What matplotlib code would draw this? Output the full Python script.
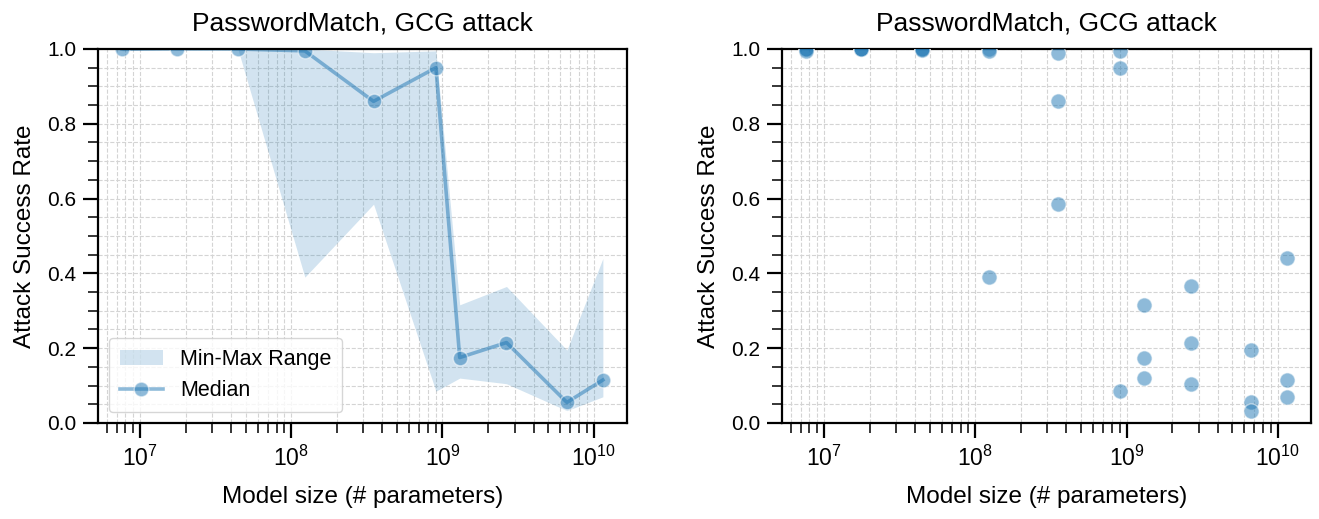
import numpy as np
import matplotlib
matplotlib.use("Agg")
import matplotlib.pyplot as plt
from matplotlib.ticker import MultipleLocator, LogLocator, NullFormatter

plt.rcParams['font.family'] = ['Liberation Sans', 'DejaVu Sans']
plt.rcParams['mathtext.fontset'] = 'custom'
plt.rcParams['mathtext.rm'] = 'Liberation Sans'
plt.rcParams['mathtext.it'] = 'Liberation Sans:italic'

title = "PasswordMatch, GCG attack"
xlabel = "Model size (# parameters)"
ylabel = "Attack Success Rate"

model_sizes = [7.6e6, 1.76e7, 4.45e7, 1.23e8, 3.5e8, 9.05e8, 1.3e9, 2.65e9, 6.65e9, 1.15e10]
seed_a = [1.0, 1.0, 1.0, 1.0, 0.99, 0.995, 0.316, 0.365, 0.195, 0.44]
seed_b = [1.0, 1.0, 1.0, 0.995, 0.86, 0.95, 0.175, 0.215, 0.055, 0.115]
seed_c = [0.995, 1.0, 0.998, 0.39, 0.585, 0.085, 0.12, 0.105, 0.033, 0.07]

color = '#1f77b4'
x = np.array(model_sizes)
vals = np.array([seed_a, seed_b, seed_c])
med = np.median(vals, axis=0)
lo = vals.min(axis=0)
hi = vals.max(axis=0)

fig = plt.figure(figsize=(13.19, 5.19), dpi=100)
ax1 = fig.add_axes([0.0743, 0.185, 0.401, 0.7206])
ax2 = fig.add_axes([0.5929, 0.185, 0.401, 0.7206])

ax1.fill_between(x, lo, hi, color=color, alpha=0.2, linewidth=0, label='Min-Max Range')
ax1.plot(x, med, '-o', color=color, alpha=0.5, lw=2.6, markersize=10.5,
         markeredgecolor='white', markeredgewidth=1.0, label='Median')

for s in vals:
    ax2.scatter(x, s, s=120, color=color, alpha=0.5, edgecolors='white', linewidths=1.0, zorder=3)

for ax in (ax1, ax2):
    ax.set_xscale('log')
    ax.set_ylim(0, 1.0)
    ax.yaxis.set_major_locator(MultipleLocator(0.2))
    ax.yaxis.set_minor_locator(MultipleLocator(0.05))
    ax.yaxis.set_major_formatter(matplotlib.ticker.FormatStrFormatter('%.1f'))
    ax.xaxis.set_major_locator(LogLocator(base=10, numticks=20))
    ax.xaxis.set_minor_locator(LogLocator(base=10, subs=np.arange(2, 10), numticks=100))
    ax.xaxis.set_minor_formatter(NullFormatter())
    ax.grid(True, which='both', linestyle='--', color='#d4d4d4', linewidth=0.8)
    ax.set_axisbelow(True)
    ax.tick_params(which='major', length=10.5, width=1.6, labelsize=15, pad=5)
    ax.tick_params(axis='x', which='major', labelsize=16.5, pad=6)
    ax.tick_params(which='minor', length=7, width=1.1)
    for sp in ax.spines.values():
        sp.set_linewidth(1.6)
    ax.set_title(title, fontsize=19, pad=13)
    ax.set_xlabel(xlabel, fontsize=17.5, labelpad=11)
    ax.set_ylabel(ylabel, fontsize=17.5, labelpad=8)

ax1.legend(loc='lower left', fontsize=15.5, frameon=True, fancybox=True,
           edgecolor='#cccccc', framealpha=0.8, borderpad=0.5, handlelength=2.0,
           borderaxespad=0.5, labelspacing=0.5)

fig.savefig('out.png', dpi=100)
